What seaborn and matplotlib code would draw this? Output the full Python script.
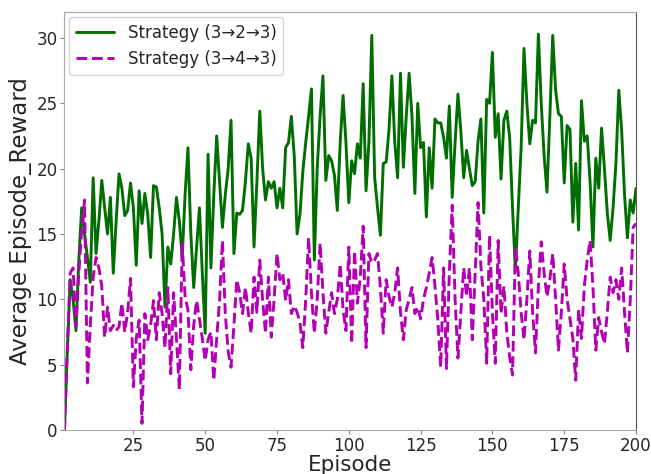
import matplotlib
matplotlib.use("Agg")
import matplotlib.pyplot as plt
import numpy as np
import pandas as pd
import seaborn as sns

# average episode reward per episode
episodes = list(range(1, 201))

reward_323 = [
    0, 6, 11.5, 10, 7.6, 13, 17, 15, 13.2, 11.3,
    19.3, 13.5, 16, 19.1, 17, 15, 17.8, 12, 16, 19.6,
    18.5, 16.4, 16.8, 18.9, 17, 12.6, 18.3, 15.8, 18.1, 16.5,
    13.2, 18.7, 18.6, 17, 15, 9.4, 14, 12.7, 15, 17.8,
    16, 13.2, 18, 21.6, 15, 10.9, 14, 17, 12, 7.4,
    21.1, 12.4, 18, 22.5, 19, 15.5, 18, 20, 23.7, 13.5,
    16.6, 16.5, 16.8, 19, 21.9, 20.8, 14, 19, 24.4, 20,
    17.6, 19, 18.5, 19, 17, 18.5, 17, 21.6, 22, 24,
    21, 15, 16.5, 19.8, 22, 24, 26.1, 13, 20, 24,
    27.1, 19.1, 21, 20.6, 19.5, 16.8, 22, 25.6, 22, 17.4,
    20.6, 19.6, 21.9, 20.8, 26.5, 18.3, 22, 30.2, 19.3, 17,
    14.9, 20.4, 20.5, 23, 27.1, 22, 19.3, 27.3, 20.1, 24,
    27.3, 24, 18.1, 25, 21.6, 22, 16.3, 21.6, 18.5, 23.8,
    23.5, 23.5, 22.4, 20.8, 24.8, 17.8, 22, 25.7, 22.9, 19.3,
    21.4, 20, 18.7, 19, 22.1, 23.8, 16.6, 25.3, 25, 28.9,
    22.4, 24.2, 19.2, 23.7, 24.4, 22.4, 17, 12.2, 17, 21.6,
    29.2, 25, 21.9, 23.7, 23.5, 30.3, 25, 21, 18.2, 24,
    30.2, 26, 24.2, 24, 18.9, 23.3, 23, 15.9, 20.4, 15.3,
    25.2, 22.1, 22.5, 19, 14, 20.8, 18.5, 23.1, 20, 16.6,
    14.5, 17, 20.4, 26, 22.9, 18, 14.7, 17.6, 16.6, 18.5,
]

reward_343 = [
    0, 6.3, 12, 12.4, 7.9, 12, 15.3, 17.6, 3.6, 8,
    11.7, 13.2, 12.4, 11, 7.1, 9.4, 7.6, 8, 7.6, 7.9,
    9.7, 7.5, 9, 11.6, 3.3, 7, 8.4, 0.5, 8.9, 6.9,
    8, 9.9, 6.9, 10.5, 8.9, 6.3, 10.9, 4.3, 10.5, 7,
    3.1, 14.3, 10.2, 9.2, 4.6, 8, 9.9, 8.5, 7, 5.3,
    6.9, 7.5, 3.8, 7, 9.9, 14.5, 8.9, 6, 4.8, 8,
    11.5, 10.5, 8.9, 10.9, 9, 7.4, 11.7, 9, 13, 9.9,
    7.4, 11.7, 7.1, 10, 13.5, 11.5, 12, 9.9, 11.5, 8.9,
    9.5, 9, 8.2, 6.3, 10, 14.7, 10.5, 7.4, 10, 14.3,
    10.5, 7.4, 9, 10.5, 8.9, 10, 12.7, 9.2, 7.6, 14,
    6.6, 13.7, 9.7, 11.7, 15.6, 6.3, 13.5, 12.8, 13, 13.5,
    10.9, 7.4, 11.5, 10.2, 9.4, 10.5, 12.4, 9, 6.9, 9.2,
    10, 10.9, 8.9, 9.4, 8.5, 10, 10.9, 12, 13.2, 11,
    8.4, 4.8, 12.4, 4.7, 12, 17.2, 10, 5.5, 9, 12.4,
    10.2, 12.4, 6.9, 12, 17.4, 12.5, 10, 5.1, 14.9, 9,
    5.1, 14.5, 8.9, 11, 7.5, 5.6, 4.2, 14, 12, 9,
    6.9, 10, 13.7, 9, 5.9, 11, 14.4, 12, 10.2, 11.5,
    13.5, 10, 6.1, 9, 12.7, 10, 8.5, 7, 3.8, 9.2,
    7, 11, 13, 14.5, 11, 6.1, 8.6, 7.5, 6.6, 9,
    11.7, 10.5, 11.5, 10, 12.4, 9, 5.9, 10, 15.5, 15.8,
]

labels = ["Strategy (3→2→3)", "Strategy (3→4→3)"]

df = pd.DataFrame({
    "Episode": episodes * 2,
    "Reward": reward_323 + reward_343,
    "Strategy": [labels[0]] * len(episodes) + [labels[1]] * len(episodes),
})

sns.set_style("white")

fig = plt.figure(figsize=(6.51, 4.74), dpi=100)
ax = fig.add_axes([0.099, 0.093, 0.878, 0.882])

sns.lineplot(data=df, x="Episode", y="Reward", hue="Strategy", style="Strategy",
             palette=["#006e00", "#b400b4"], dashes=[(None, None), (3.7, 1.6)],
             linewidth=2.1, ax=ax)

ax.set_xlim(1, 200)
ax.set_ylim(0, 32)
ax.set_xticks([25, 50, 75, 100, 125, 150, 175, 200])
ax.set_yticks([0, 5, 10, 15, 20, 25, 30])
ax.tick_params(axis="both", labelsize=12, length=3, width=0.8, direction="out",
               bottom=True, left=True, color="#888888", pad=2)

ax.set_xlabel("Episode", fontsize=15.5, labelpad=0)
ax.set_ylabel("Average Episode_Reward", fontsize=16.5, labelpad=3)

for side in ["left", "bottom", "top"]:
    ax.spines[side].set_color("#aaaaaa")
ax.spines["right"].set_color("#555555")

leg = ax.legend(loc="upper left", fontsize=12, frameon=True, handlelength=2.3,
                borderaxespad=0.3)
leg.set_title(None)

fig.savefig("out.png", dpi=100)
